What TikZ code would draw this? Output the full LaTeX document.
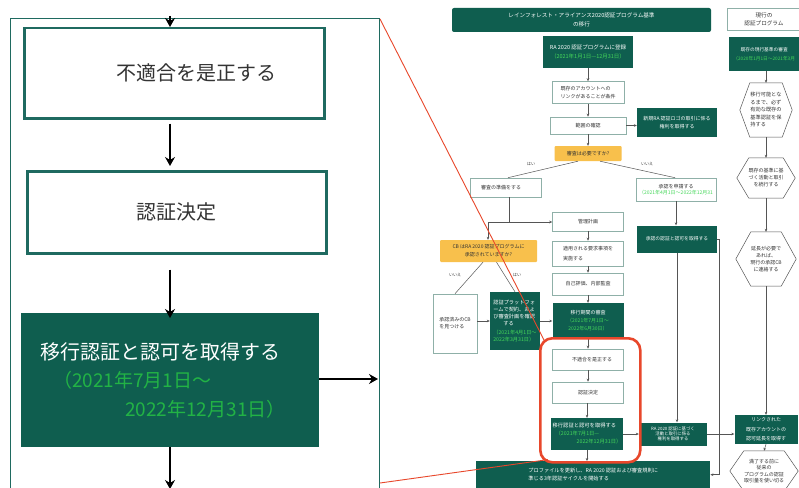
\documentclass[tikz,border=0pt]{standalone}
\usepackage{fontspec}
\setmainfont{Noto Sans CJK JP}
\usetikzlibrary{arrows.meta,calc}
\definecolor{dkg}{HTML}{0F5E4F}
\definecolor{tealb}{HTML}{1F6A60}
\definecolor{boxg}{HTML}{8FB0A8}
\definecolor{lgreen}{HTML}{22B345}
\definecolor{sgreen}{HTML}{45D85A}
\definecolor{ylw}{HTML}{F8C04C}
\definecolor{redo}{HTML}{E8472B}
\definecolor{lineg}{HTML}{555555}
\definecolor{txtg}{HTML}{333333}
\newcommand\fsz[2]{\fontsize{#1}{#2}\selectfont}
\tikzset{
  sz/.style 2 args={minimum width=#1pt, minimum height=#2pt},
  wbox/.style={draw=boxg, fill=white, line width=0.6pt, inner sep=1pt, align=center, text=txtg, font=\fsz{5}{7}},
  dbox/.style={fill=dkg, inner sep=1pt, align=center, text=white, font=\fsz{5}{7}},
  ybox/.style={fill=ylw, rounded corners=1pt, inner sep=1pt, align=center, text=txtg, font=\fsz{5}{7}},
  hexn/.style={inner sep=0pt, align=center, text=txtg, font=\fsz{5}{7}},
  hexline/.style={draw=lineg, line width=0.5pt},
  conn/.style={draw=lineg, line width=0.5pt},
  arr/.style={conn, -{Stealth[length=3pt,width=2.6pt]}},
  bigbox/.style={draw=tealb, line width=2.5pt, fill=white, inner sep=0pt, text=txtg},
  bigarr/.style={line width=1.6pt, -{Stealth[length=9pt,width=10pt,inset=3pt]}},
  lbl/.style={font=\fsz{4}{5}, text=txtg, inner sep=0pt},
}
\newcommand\drawhex[2]{\draw[hexline] ([xshift=#2pt]#1.north west) -- ([xshift=-#2pt]#1.north east) -- (#1.east) -- ([xshift=-#2pt]#1.south east) -- ([xshift=#2pt]#1.south west) -- (#1.west) -- cycle;}
\begin{document}
\begin{tikzpicture}[x=1pt,y=-1pt]
\clip (0,0) rectangle (799,487);
\fill[white] (0,0) rectangle (799,487);

% ---------- left inset ----------
\node[draw=tealb, line width=1.2pt, sz={369}{480}, anchor=north west] (inset) at (10,18) {};
\node[bigbox, sz={300}{90}, anchor=north west, font=\fsz{20}{24}] (b1) at (23,27) {\hspace*{44pt}不適合を是正する};
\node[bigbox, sz={299}{82}, anchor=north west, font=\fsz{20}{24}] (b2) at (26,170) {認証決定};
\node[fill=dkg, sz={298}{134}, anchor=north west, inner ysep=0pt, inner xsep=19pt, text width=260pt, align=left, text=white, font=\fsz{20}{28.5}] (b3) at (21,313)
  {移行認証と認可を取得する\\
   {\color{lgreen}\fontsize{19}{28.5}\selectfont\hspace*{13pt}（2021年7月1日～}\\
   {\color{lgreen}\fontsize{19}{28.5}\selectfont\hspace*{85pt}2022年12月31日）}};
\coordinate (t0) at (170,16);
\coordinate (rr) at (378,379);
\coordinate (dd) at (170,489);
\draw[bigarr] (t0) -- (t0 |- b1.north);
\draw[bigarr, shorten <=4pt, shorten >=4pt] (b1.south -| t0) -- (b2.north -| t0);
\draw[bigarr, shorten <=15pt, shorten >=-5pt] (b2.south -| t0) -- (b3.north -| t0);
\draw[bigarr] (b3.east |- rr) -- (rr);
\draw[bigarr] (b3.south -| dd) -- (dd);

% ---------- right: headers ----------
\node[dbox, rounded corners=2pt, sz={259}{24}, font=\fsz{5.6}{9}] (title) at (581.5,20) {レインフォレスト・アライアンス2020認証プログラム基準\\の移行};
\node[wbox, sz={74}{22}, font=\fsz{5.6}{8}] (hdr) at (764,19) {現行の\\認証プログラム};

% ---------- centre column ----------
\node[dbox, sz={90}{32}, font=\fsz{5.5}{9}] (reg) at (588,52) {RA 2020 認証プログラムに登録\\\textcolor{sgreen}{（2021年1月1日—12月31日）}};
\node[wbox, sz={72}{22}, align=left, font=\fsz{5}{8.5}] (acct) at (588,92.5) {既存のアカウントへの\\リンクがあることが条件};
\node[wbox, sz={76}{17}] (scope) at (588,125.5) {範囲の確認};
\node[dbox, sz={80}{29}, font=\fsz{5}{7.5}] (newra) at (677,122.5) {新規RA 認証ロゴの取引に係る\\権利を取得する};
\node[ybox, sz={67}{15}] (q1) at (588,153.5) {審査は必要ですか?};
\node[lbl] (yes1) at (531,164) {はい};
\node[lbl] (no1) at (647,164) {いいえ};
\node[wbox, sz={71}{19}] (prep) at (506,187.5) {審査の準備をする\hspace*{10pt}};
\node[wbox, sz={80}{23}, font=\fsz{5}{6.5}] (apply) at (676,189.5) {承認を申請する\\\textcolor{sgreen}{（2021年4月1日～2022年12月31}};
\node[wbox, sz={71}{19}] (mgmt) at (588,221.5) {管理計画};
\node[wbox, sz={71}{25}, align=left, font=\fsz{5}{10}] (impl) at (588,253.5) {適用される要求事項を\\実施する};
\node[wbox, sz={71}{22}] (self) at (588,284) {自己評価、内部監査};
\node[dbox, sz={71}{36}, font=\fsz{5}{8}] (trans) at (588,321) {移行期間の審査\\\textcolor{sgreen}{（2021年7月1日～}\\\textcolor{sgreen}{2022年6月30日）}};
\node[wbox, sz={71}{21}] (nc) at (588,359.5) {\hspace*{8pt}不適合を是正する};
\node[wbox, sz={71}{21}] (dec) at (588,392.5) {認証決定};
\node[dbox, sz={72}{32}, font=\fsz{5.3}{8}, align=left] (obt) at (587,434) {移行認証と認可を取得する\\\hspace*{3pt}\textcolor{sgreen}{（2021年7月1日—}\\\hspace*{24pt}\textcolor{sgreen}{2022年12月31日）}};
\node[dbox, sz={234}{27}, anchor=north west, font=\fsz{5.2}{8}, align=left] (prof) at (476,461) {プロファイルを更新し、RA 2020 認証および審査規則に\\準じる3年認証サイクルを開始する};

% ---------- left column ----------
\node[ybox, sz={97}{22}, font=\fsz{5}{8}] (cbq) at (488.5,251) {CB はRA 2020 認証プログラムに\\承認されていますか?};
\node[lbl] (no2) at (455,275) {いいえ};
\node[lbl] (yes2) at (517,275) {はい};
\node[wbox, sz={44}{59}, align=left] (findcb) at (455,323.5) {承認済みのCB\\を見つける};
\node[dbox, sz={50}{58}, align=left, font=\fsz{5.2}{7}] (plat) at (515,321) {認証プラットフォ\\ームで契約、およ\\び審査計画を確認\\\hspace*{10pt}する\\[2pt]\textcolor{sgreen}{（2021年4月1日～}\\\textcolor{sgreen}{2022年3月31日）}};

% ---------- middle column ----------
\node[dbox, sz={80}{27}, font=\fsz{4.8}{7}] (appobt) at (677,239) {承認の認証と認可を取得する};
\node[dbox, sz={68}{23}, font=\fsz{4.4}{5}] (ra20) at (673,434) {RA 2020 認証に基づく\\活動と取引に係る\\権利を取得する};

% ---------- right column ----------
\node[dbox, sz={70}{34}, anchor=west, font=\fsz{4.7}{9}] (exist) at (729,54) {既存の現行基準の審査\\\textcolor{sgreen}{（2020年1月1日～2021年3月}};
\node[hexn, sz={52}{54}, align=left, font=\fsz{5.2}{7.5}] (h1) at (766,110) {移行可能とな\\るまで、必ず\\有効な既存の\\基準認証を保\\持する};
\node[hexn, sz={58}{40}] (h2) at (766,178) {既存の基準に基\\づく活動と取引\\を続行する};
\node[hexn, sz={60}{54}] (h3) at (766,259) {延長が必要で\\あれば、\\現行の承認CB\\に連絡する};
\node[dbox, sz={63}{29}, font=\fsz{5}{9.5}] (link) at (766,429.5) {リンクされた\\既存アカウントの\\認可延長を取得す};
\node[hexn, sz={68}{40}, font=\fsz{5}{6.5}] (h4) at (764,471) {満了する前に\\従来の\\プログラムの認証\\取引量を使い切る};
\drawhex{h1}{10}
\drawhex{h2}{12}
\drawhex{h3}{15}
\drawhex{h4}{14}

% ---------- connectors ----------
\draw[arr] (reg.south) -- (acct.north);
\draw[arr] (acct.south) -- (scope.north);
\draw[arr] (scope.east) -- (scope.east -| newra.west);
\draw[arr] (scope.south) -- (q1.north);
\draw[conn] ([xshift=-10pt]q1.south) -- ([xshift=2pt]prep.north);
\draw[conn] ([xshift=12pt]q1.south) -- ([xshift=-1pt]apply.north);
\coordinate (jn) at (509,222);
\coordinate (jl) at (488,222);
\draw[conn] (prep.south -| jn) -- (jn);
\draw[conn] (jl) -- (jn);
\draw[arr] (jn) -- (jn -| mgmt.west);
\draw[arr] (jl) -- (jl |- cbq.north);
\draw[arr] (apply.south) -- (apply.south |- appobt.north);
\draw[arr] (mgmt.south) -- (impl.north);
\draw[arr] (impl.south) -- (self.north);
\draw[arr] (self.south) -- (trans.north);
\draw[arr] (trans.south) -- (nc.north);
\draw[arr] (nc.south) -- (dec.north);
\draw[arr] (dec.south -| obt.south) -- (obt.north);
\draw[arr] (obt.south) -- (obt.south |- prof.north);
\draw[conn] ([xshift=-5.5pt]cbq.south) -- (findcb.north);
\draw[conn] ([xshift=8pt]cbq.south) -- (plat.north);
\draw[arr] (findcb.east |- plat.east) -- (plat.west);
\draw[arr] (plat.east) -- (plat.east -| trans.west);
\draw[arr] (obt.east) -- (obt.east -| ra20.west);
\draw[arr] (ra20.east) -- (ra20.east -| link.west);
\draw[arr] (appobt.south) -- (appobt.south |- ra20.north);
\draw[arr] (appobt.east) -- ++(2,0) |- (prof.east);
\draw[arr] (h1.north |- exist.south) -- (h1.north);
\draw[arr] (h1.south) -- (h2.north);
\draw[arr] (h2.south) -- (h3.north);
\draw[arr] (h3.south) -- (link.north);
\draw[arr] (link.south) -- (h4.north);

% ---------- red highlight ----------
\node[draw=redo, line width=2.6pt, rounded corners=12pt, sz={100}{124}, anchor=north west] (focus) at (539,337) {};
\coordinate (r1) at (380,19);
\coordinate (r2) at (380,483);
\draw[redo, line width=0.9pt] (r1) -- ([shift={(5pt,-3pt)}]focus.north west);
\draw[redo, line width=0.9pt] (r2) -- ([shift={(9pt,4pt)}]focus.south west);
\end{tikzpicture}
\end{document}
